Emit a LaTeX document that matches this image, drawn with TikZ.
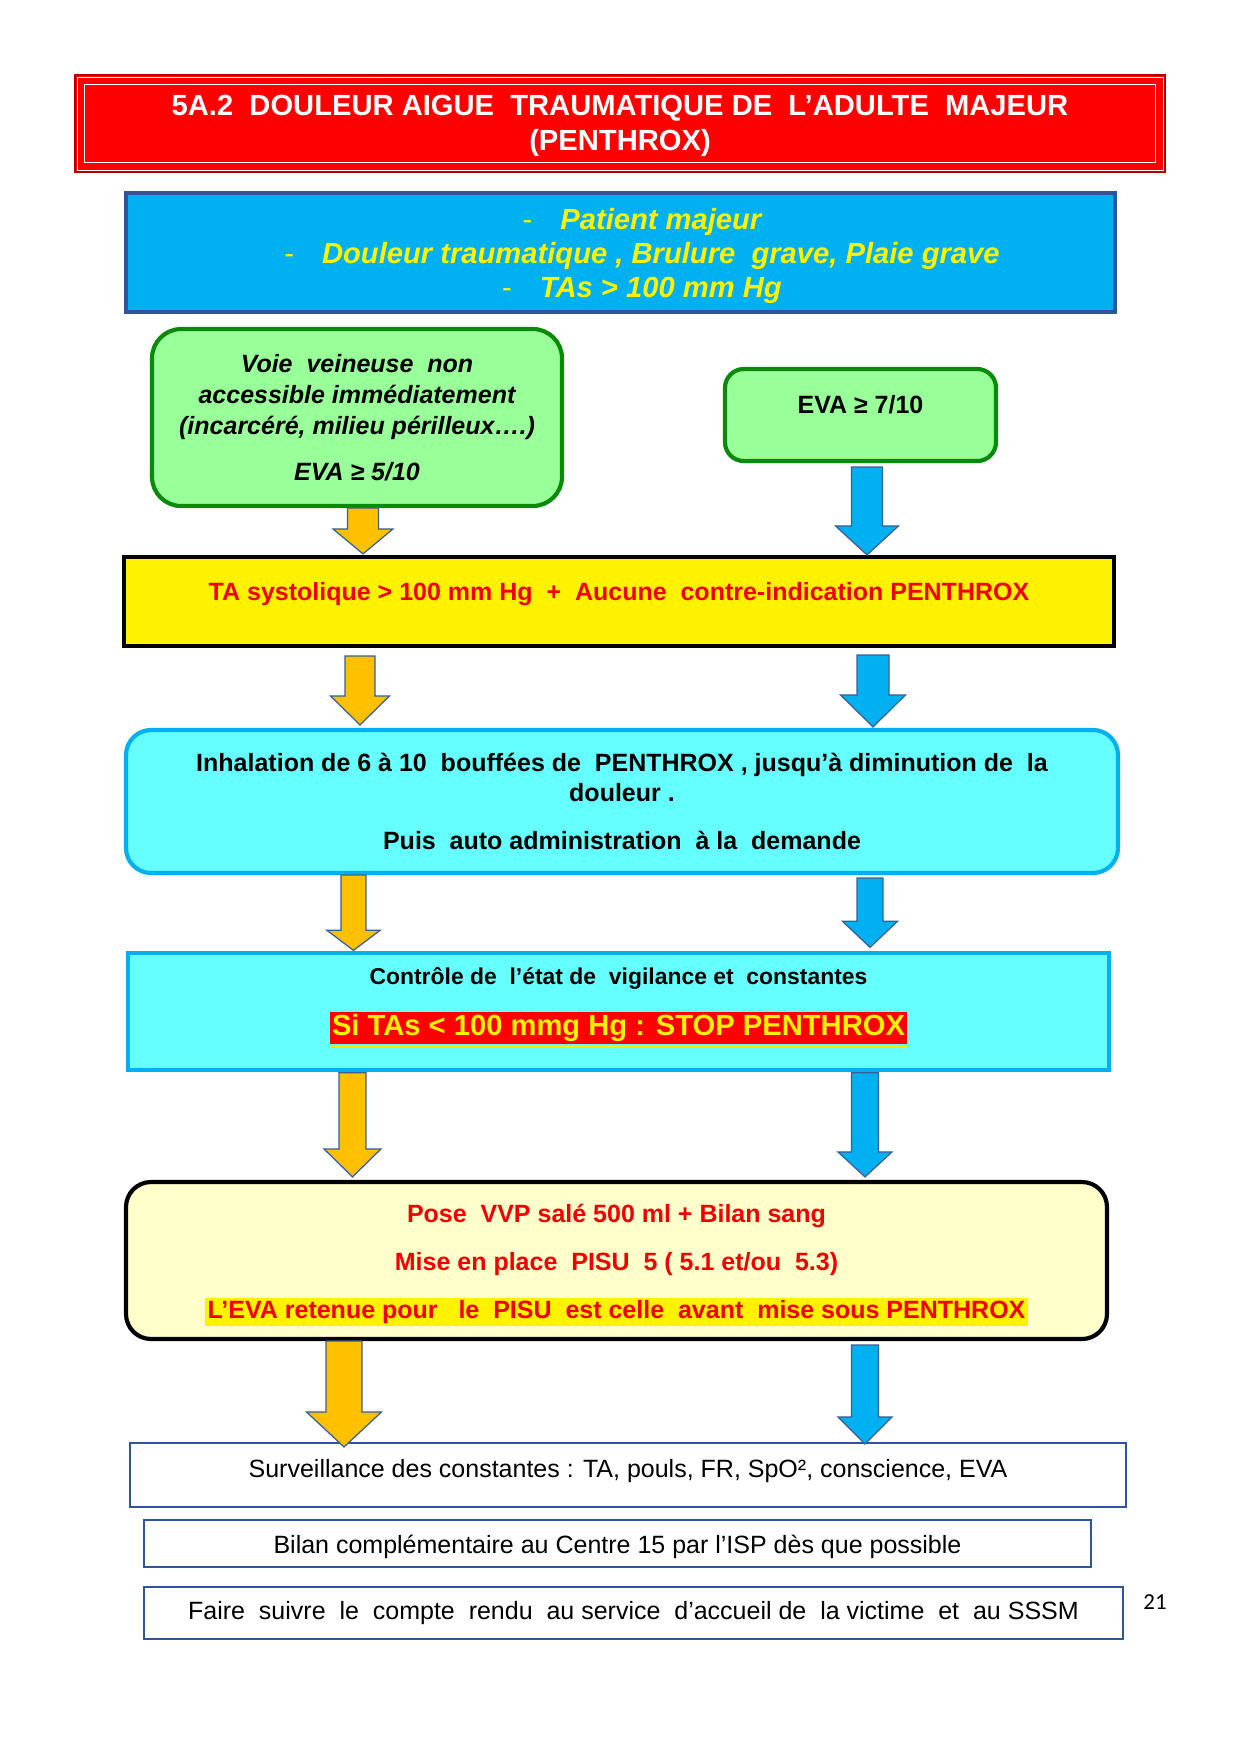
\documentclass[tikz,border=0pt]{standalone}
\usepackage{fontspec}
\setmainfont{Liberation Sans}
\newfontfamily\pagenumfont{Carlito}
\usetikzlibrary{calc}

\definecolor{titlered}{HTML}{FF0000}
\definecolor{skyblue}{HTML}{00B0F0}
\definecolor{navyline}{HTML}{2F5597}
\definecolor{lightgreen}{HTML}{99FF99}
\definecolor{darkgreen}{HTML}{0A8A0A}
\definecolor{aqua}{HTML}{66FFFF}
\definecolor{paleyellow}{HTML}{FFFFCC}
\definecolor{amber}{HTML}{FFC000}
\definecolor{arrowedge}{HTML}{3A5F96}
\definecolor{alertred}{HTML}{F00000}

\newdimen\pxu \pxu=0.48pt
\setlength{\fboxsep}{1pt}
\newcommand{\itemdash}{{\mdseries\upshape -}\hspace{13.5pt}}
\newcommand{\topstrut}[1]{\rule{0pt}{#1}}
\newcommand{\stopflag}[1]{{\color{yellow}\underline{\colorbox{red}{#1}}}}
% block arrow: colour, x, from, to, top gap, tip gap, shaft half, head half, head length
\newcommand{\fatarrow}[9]{%
  \path (#2,0) coordinate (arrx)
    (#3.south -| arrx) ++(0,#5) coordinate (arrtop)
    (#4.north -| arrx) ++(0,{0-(#6)}) coordinate (arrtip);
  \draw[arrowline,fill=#1] ($(arrtop)+(-#7,0)$) -- ($(arrtop)+(#7,0)$) -- ($(arrtip)+(#7,-#9)$)
    -- ($(arrtip)+(#8,-#9)$) -- (arrtip) -- ($(arrtip)+(-#8,-#9)$) -- ($(arrtip)+(-#7,-#9)$) -- cycle;}

\begin{document}
\begin{tikzpicture}[x=0.48pt,y=-0.48pt,
    box/.style={align=center,inner sep=0pt},
    sz/.style 2 args={minimum width=#1*\pxu,minimum height=#2*\pxu},
    arrowline/.style={draw=arrowedge,line width=0.6pt}]
  \fill[white] (0,0) rectangle (1241,1755);
  \useasboundingbox (0,0) rectangle (1241,1755);
  % Title
  \node[box,fill=titlered,draw=red!70!black,line width=0.5pt,sz={1090}{97},
    font=\fontsize{14}{17}\selectfont\bfseries,text=white] (title) at (620,123.5)
    {\topstrut{12.2pt}5A.2 ~DOULEUR AIGUE ~TRAUMATIQUE DE ~L’ADULTE ~MAJEUR\\(PENTHROX)};
  \draw[white,line width=0.4pt] ($(title.north west)+(2.5,2.5)$) rectangle ($(title.south east)+(-2.5,-2.5)$);
  \draw[white,line width=0.8pt] ($(title.north west)+(10,10)$) rectangle ($(title.south east)+(-10,-10)$);
  % Inclusion
  \node[box,fill=skyblue,draw=navyline,line width=2.2pt,sz={989}{119},
    font=\fontsize{14}{16.3}\selectfont\bfseries\itshape,text=yellow] (crit) at (620.5,252.5)
    {\topstrut{13.5pt}\hspace*{20.6pt}\itemdash Patient majeur\\
     \hspace*{20.6pt}\itemdash Douleur traumatique , Brulure ~grave, Plaie grave\\
     \hspace*{20.6pt}\itemdash TAs > 100 mm Hg};
  \node[box,fill=lightgreen,draw=darkgreen,line width=2pt,rounded corners=14pt,sz={410}{177},
    font=\fontsize{12}{15}\selectfont\bfseries\itshape] (venous) at (357,417.5)
    {Voie ~veineuse ~non\\accessible immédiatement\\(incarcéré, milieu périlleux….)\\[7pt]EVA ≥ 5/10};
  \node[box,fill=lightgreen,draw=darkgreen,line width=2pt,rounded corners=9pt,sz={271}{92},
    font=\fontsize{12}{15}\selectfont\bfseries,text depth=9.9pt] (pain) at (860.5,415)
    {EVA ≥ 7/10};
  % Steps
  \node[box,fill=yellow,draw=black,line width=2pt,sz={990}{89},
    font=\fontsize{12}{15}\selectfont\bfseries,text=alertred,text depth=9.3pt] (check) at (619,601.5)
    {TA systolique > 100 mm Hg ~+ ~Aucune ~contre-indication PENTHROX};
  \node[box,fill=aqua,draw=skyblue,line width=2pt,rounded corners=12pt,sz={992}{143},
    font=\fontsize{12}{14.4}\selectfont\bfseries] (inhal) at (622,801.5)
    {Inhalation de 6 à 10 ~bouffées de ~PENTHROX , jusqu’à diminution de ~la\\douleur .\\[8.3pt]
     Puis ~auto administration ~à la ~demande};
  \node[box,fill=aqua,draw=skyblue,line width=1.6pt,sz={981}{117},
    font=\fontsize{11}{13}\selectfont\bfseries,text depth=9.6pt] (watch) at (618.5,1011.5)
    {Contrôle de ~l’état de ~vigilance et ~constantes\\[10pt]
     {\fontsize{14}{17}\selectfont\stopflag{Si TAs < 100 mmg Hg : STOP PENTHROX}}};
  \node[box,fill=paleyellow,draw=black,line width=2pt,rounded corners=12pt,sz={981}{157},
    font=\fontsize{12}{15}\selectfont\bfseries,text=alertred] (pisu) at (616.5,1260.5)
    {\topstrut{13.3pt}Pose ~VVP salé 500 ml + Bilan sang\\[8pt]Mise en place ~PISU ~5 ( 5.1 et/ou ~5.3)\\[8pt]
     \colorbox{yellow}{L’EVA retenue pour ~~le ~PISU ~est celle ~avant ~mise sous PENTHROX}};
  % Follow-up
  \node[box,fill=white,draw=navyline,line width=1pt,sz={996}{64},
    font=\fontsize{12}{14}\selectfont,text depth=6.7pt] (survey) at (628,1475)
    {Surveillance des constantes : TA, pouls, FR, SpO², conscience, EVA};
  \node[box,fill=white,draw=navyline,line width=1pt,sz={947}{47},
    font=\fontsize{12}{14}\selectfont] (report) at (617.5,1543.5)
    {\topstrut{12.2pt}Bilan complémentaire au Centre 15 par l’ISP dès que possible};
  \node[box,fill=white,draw=navyline,line width=1pt,sz={979}{52},
    font=\fontsize{12}{14}\selectfont,text depth=2.3pt] (forward) at (633.5,1613)
    {Faire ~suivre ~le ~compte ~rendu ~au service ~d’accueil de ~la victime ~et ~au SSSM};
  \node[font=\pagenumfont\fontsize{11}{13}\selectfont] (pagenum) at (1155,1602) {21};
  % Arrows
  \fatarrow{amber}{363}{venous}{check}{0}{1}{15.5}{30}{25}
  \fatarrow{skyblue}{867}{pain}{check}{4}{0}{15.5}{31.5}{29}
  \fatarrow{amber}{360}{check}{inhal}{8}{3}{15}{29.5}{29}
  \fatarrow{skyblue}{873}{check}{inhal}{7}{1}{16}{32.5}{32}
  \fatarrow{amber}{353.5}{inhal}{watch}{0}{1}{12.5}{26.5}{20}
  \fatarrow{skyblue}{870}{inhal}{watch}{3}{4}{13}{27.5}{26}
  \fatarrow{amber}{352.5}{watch}{pisu}{1}{3}{13.5}{28.5}{28}
  \fatarrow{skyblue}{865}{watch}{pisu}{1}{3}{13.5}{27}{25}
  \fatarrow{amber}{344}{pisu}{survey}{0}{-5}{18}{37.5}{35}
  \fatarrow{skyblue}{865}{pisu}{survey}{4}{-2}{13.5}{27}{27}
\end{tikzpicture}
\end{document}
